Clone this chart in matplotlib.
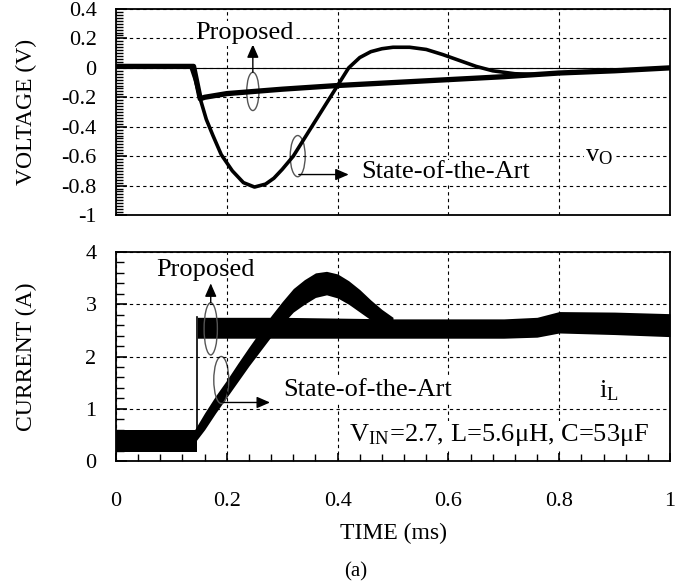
import numpy as np
import matplotlib
matplotlib.use("Agg")
import matplotlib.pyplot as plt
from matplotlib.patches import Ellipse
from matplotlib.ticker import MultipleLocator

plt.rcParams['font.family'] = ['Liberation Serif', 'DejaVu Serif']
plt.rcParams['mathtext.fontset'] = 'stix'

# output voltage deviation (V) vs time (ms)
t_v_prop = [0, 0.14, 0.152, 0.16, 0.2, 0.3, 0.4, 0.5, 0.6, 0.7, 0.8, 0.9, 1.0]
v_prop = [0.01, 0.01, -0.21, -0.2, -0.175, -0.145, -0.12, -0.1, -0.08, -0.06, -0.035, -0.02, 0.0]

t_v_sota = [0, 0.135, 0.143, 0.152, 0.163, 0.175, 0.19, 0.21, 0.23, 0.25, 0.27, 0.285,
            0.3, 0.32, 0.34, 0.36, 0.38, 0.4, 0.42, 0.44, 0.46, 0.48, 0.5, 0.53, 0.56,
            0.59, 0.62, 0.65, 0.68, 0.72, 0.76, 0.8]
v_sota = [0.01, 0.01, -0.08, -0.21, -0.35, -0.46, -0.59, -0.7, -0.78, -0.81, -0.79, -0.75,
          -0.69, -0.6, -0.48, -0.36, -0.24, -0.12, 0.0, 0.07, 0.11, 0.13, 0.14, 0.14, 0.125,
          0.09, 0.05, 0.01, -0.02, -0.04, -0.045, -0.035]

# inductor current (A) vs time (ms), drawn as min/max envelopes
t_i_pre = [0, 0.147]
i_pre_lo = [0.17, 0.17]
i_pre_hi = [0.6, 0.6]

t_i_prop = [0.147, 0.3, 0.5, 0.7, 0.76, 0.8, 0.9, 1.0]
i_prop_lo = [2.35, 2.35, 2.35, 2.35, 2.37, 2.45, 2.42, 2.38]
i_prop_hi = [2.75, 2.75, 2.72, 2.72, 2.75, 2.86, 2.85, 2.82]

t_i_sota = [0.142, 0.16, 0.18, 0.2, 0.22, 0.24, 0.26, 0.28, 0.3, 0.32, 0.34, 0.36,
            0.38, 0.4, 0.42, 0.44, 0.46, 0.48, 0.5]
i_sota_lo = [0.35, 0.6, 0.92, 1.22, 1.52, 1.82, 2.1, 2.38, 2.62, 2.85, 3.0, 3.13,
             3.18, 3.12, 3.0, 2.85, 2.7, 2.55, 2.45]
i_sota_hi = [0.6, 0.92, 1.25, 1.55, 1.87, 2.18, 2.48, 2.78, 3.05, 3.3, 3.47, 3.6,
             3.63, 3.58, 3.45, 3.28, 3.08, 2.9, 2.75]

fig = plt.figure(figsize=(6.94, 5.85), dpi=100)
ax1 = fig.add_axes([116 / 694, 1 - 215 / 585, 554 / 694, 206 / 585])
ax2 = fig.add_axes([116 / 694, 1 - 461 / 585, 554 / 694, 209 / 585])

grid_kw = dict(color='black', linestyle=(0, (3, 3)), linewidth=0.8)
box = dict(facecolor='white', edgecolor='none', pad=1)
arrow_kw = dict(arrowstyle='-|>,head_length=0.8,head_width=0.35', color='black', lw=1,
                shrinkA=0, shrinkB=0)

# ---- voltage panel
ax1.set_xlim(0, 1)
ax1.set_ylim(-1, 0.4)
ax1.grid(True, **grid_kw)
ax1.axhline(0, color='black', lw=0.8)
ax1.plot(t_v_sota, v_sota, color='black', lw=2.6, solid_capstyle='round', solid_joinstyle='round')
ax1.plot(t_v_prop, v_prop, color='black', lw=3.8, solid_capstyle='round', solid_joinstyle='round')
ax1.set_ylabel('VOLTAGE (V)', fontsize=17)
ax1.yaxis.set_label_coords(-0.143, 0.5)
ax1.yaxis.set_major_locator(MultipleLocator(0.2))
ax1.yaxis.set_minor_locator(MultipleLocator(0.02))
ax1.xaxis.set_major_locator(MultipleLocator(0.2))
ax1.tick_params(axis='y', which='major', direction='in', length=8, width=1.2, labelsize=16, pad=14)
ax1.tick_params(axis='y', which='minor', direction='in', length=5, width=1)
ax1.tick_params(axis='x', length=0, labelbottom=False)
ax1.set_yticks([0.4, 0.2, 0, -0.2, -0.4, -0.6, -0.8, -1])
ax1.set_yticklabels(['0.4', '0.2', '0', '-0.2', '-0.4', '-0.6', '-0.8', '-1'])

ax1.add_patch(Ellipse((0.247, -0.16), 0.022, 0.26, fill=False, edgecolor='#555555', lw=1))
ax1.annotate('', xy=(0.247, 0.16), xytext=(0.247, -0.03), arrowprops=arrow_kw)
ax1.text(0.232, 0.235, 'Proposed', fontsize=19, ha='center', va='center', bbox=box)
ax1.add_patch(Ellipse((0.328, -0.6), 0.027, 0.28, fill=False, edgecolor='#555555', lw=1))
ax1.annotate('', xy=(0.42, -0.725), xytext=(0.33, -0.725), arrowprops=arrow_kw)
ax1.text(0.443, -0.71, 'State-of-the-Art', fontsize=19, ha='left', va='center', bbox=box)
ax1.text(0.872, -0.6, r'v$_\mathregular{O}$', fontsize=19, ha='center', va='center', bbox=box)

# ---- current panel
ax2.set_xlim(0, 1)
ax2.set_ylim(0, 4)
ax2.grid(True, **grid_kw)
ax2.fill_between(t_i_pre, i_pre_lo, i_pre_hi, color='black', lw=0)
ax2.plot([0.147, 0.147], [0.6, 2.75], color='black', lw=1.2)
ax2.fill_between(t_i_sota, i_sota_lo, i_sota_hi, color='black', lw=0)
ax2.fill_between(t_i_prop, i_prop_lo, i_prop_hi, color='black', lw=0)
ax2.set_ylabel('CURRENT (A)', fontsize=17)
ax2.yaxis.set_label_coords(-0.143, 0.5)
ax2.set_xlabel('TIME (ms)', fontsize=17, labelpad=9)
ax2.xaxis.set_major_locator(MultipleLocator(0.2))
ax2.xaxis.set_minor_locator(MultipleLocator(0.04))
ax2.yaxis.set_major_locator(MultipleLocator(1))
ax2.yaxis.set_minor_locator(MultipleLocator(0.2))
ax2.tick_params(axis='y', which='major', direction='in', length=8, width=1.2, labelsize=16, pad=14)
ax2.tick_params(axis='y', which='minor', direction='in', length=6, width=1)
ax2.tick_params(axis='x', which='major', direction='in', length=6, width=1.2, labelsize=16, pad=22)
ax2.tick_params(axis='x', which='minor', direction='in', length=5, width=1)
ax2.set_xticks([0, 0.2, 0.4, 0.6, 0.8, 1.0])
ax2.set_xticklabels(['0', '0.2', '0.4', '0.6', '0.8', '1'])

ax2.add_patch(Ellipse((0.171, 2.53), 0.024, 1.0, fill=False, edgecolor='#555555', lw=1))
ax2.annotate('', xy=(0.171, 3.4), xytext=(0.171, 3.03), arrowprops=arrow_kw)
ax2.text(0.162, 3.66, 'Proposed', fontsize=19, ha='center', va='center')
ax2.add_patch(Ellipse((0.19, 1.55), 0.027, 0.9, fill=False, edgecolor='#555555', lw=1))
ax2.annotate('', xy=(0.278, 1.12), xytext=(0.193, 1.12), arrowprops=arrow_kw)
ax2.text(0.301, 1.36, 'State-of-the-Art', fontsize=19, ha='left', va='center', bbox=box)
ax2.text(0.89, 1.34, r'i$_\mathregular{L}$', fontsize=19, ha='center', va='center', bbox=box)
ax2.text(0.692, 0.5, r'V$_\mathregular{IN}$=2.7, L=5.6μH, C=53μF', fontsize=19,
         ha='center', va='center', bbox=box)

for ax in (ax1, ax2):
    for sp in ax.spines.values():
        sp.set_linewidth(1.3)

fig.text(356 / 694, 1 - 572 / 585, '(a)', fontsize=15, ha='center', va='center')

fig.savefig('out.png', dpi=100)
